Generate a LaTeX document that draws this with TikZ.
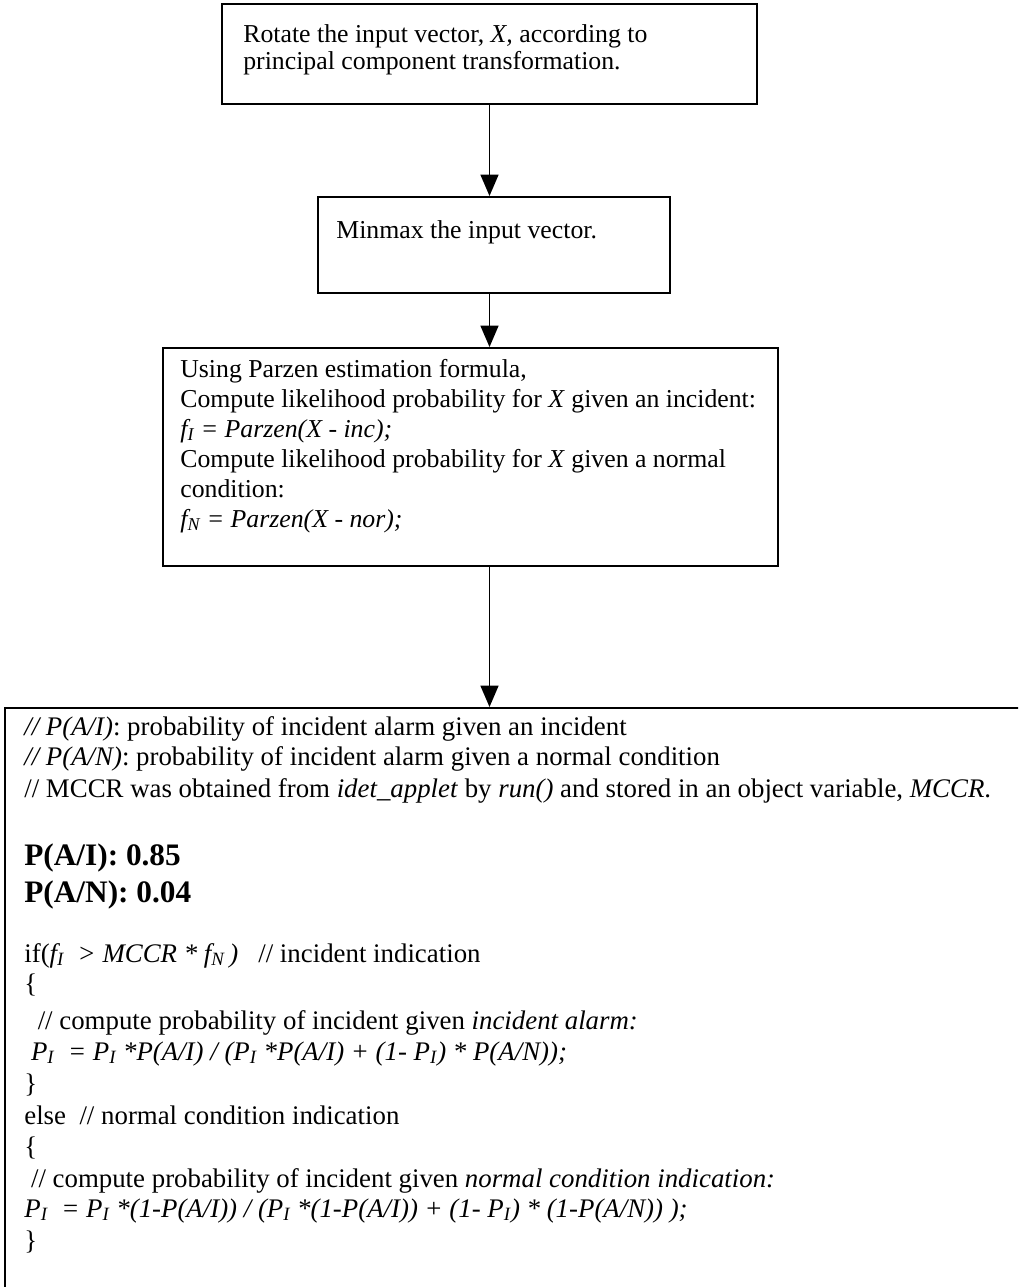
\documentclass[tikz,border=0pt]{standalone}
\usepackage{fontspec}
\setmainfont{Liberation Serif}
\usetikzlibrary{arrows.meta}
\tikzset{
  box/.style={draw, line width=1.1pt, inner sep=0pt},
  arr/.style={line width=1.1pt, -{Triangle[width=10pt,length=12pt]}},
  txt/.style={anchor=base west, inner sep=0pt, font=\fontsize{14.5pt}{16.7pt}\selectfont},
  code/.style={anchor=base west, inner sep=0pt, font=\fontsize{15.1pt}{17.4pt}\selectfont},
  big/.style={anchor=base west, inner sep=0pt, font=\fontsize{17.6pt}{20pt}\selectfont\bfseries},
}
\newcommand{\sub}[1]{\textsubscript{#1}}
\begin{document}
\begin{tikzpicture}[x=0.5625pt,y=-0.5625pt]
\useasboundingbox (0,0) rectangle (1018,1287);
\clip (0,0) rectangle (1018,1287);

% process boxes
\node[box, minimum width=300.9pt, minimum height=56.25pt] (b1) at (489.5,54) {};
\node[box, minimum width=198pt, minimum height=54pt] (b2) at (494,245) {};
\node[box, minimum width=345.9pt, minimum height=122.6pt] (b3) at (470.5,457) {};
\node[box, minimum width=576.6pt, minimum height=333pt] (b4) at (517.5,1004) {};

% connectors
\draw[arr] (b1.south) -- (b1.south |- b2.north);
\draw[arr] (b1.south |- b2.south) -- (b1.south |- b3.north);
\draw[arr] (b1.south |- b3.south) -- (b1.south |- b4.north);

% box 1
\node[txt] (t11) at (243,43) {Rotate the input vector, \textit{X,} according to};
\node[txt] (t12) at (243,70) {principal component transformation.};

% box 2
\node[txt] (t21) at (336,239) {Minmax the input vector.};

% box 3
\node[txt] (t31) at (180,377) {Using Parzen estimation formula,};
\node[txt] (t32) at (180,407) {Compute likelihood probability for \textit{X} given an incident:};
\node[txt] (t33) at (180,437) {\textit{f\sub{I} = Parzen(X - inc);}};
\node[txt] (t34) at (180,467) {Compute likelihood probability for \textit{X} given a normal};
\node[txt] (t35) at (180,497) {condition:};
\node[txt] (t36) at (180,527) {\textit{f\sub{N} = Parzen(X - nor);}};

% box 4
\node[code] (c1) at (24,735) {\textit{// P(A/I)}: probability of incident alarm given an incident};
\node[code] (c2) at (24,765) {\textit{// P(A/N)}: probability of incident alarm given a normal condition};
\node[code] (c3) at (24,797) {// MCCR was obtained from \textit{idet\_applet} by \textit{run()} and stored in an object variable, \textit{MCCR}.};
\node[big] (c4) at (24,865) {P(A/I): 0.85};
\node[big] (c5) at (24,902) {P(A/N): 0.04};
\node[code] (c6) at (24,962) {if(\textit{f\sub{I} \ > MCCR * f\sub{N}\,)} \ \ // incident indication};
\node[code] (c7) at (24,992) {\{};
\node[code] (c8) at (24,1029) {\ \ // compute probability of incident given \textit{incident alarm:}};
\node[code] (c9) at (24,1060) {\ \textit{P\sub{I} \ = P\sub{I} *P(A/I) / (P\sub{I} *P(A/I) + (1- P\sub{I}) * P(A/N));}};
\node[code] (c10) at (24,1092) {\}};
\node[code] (c11) at (24,1124) {else \ // normal condition indication};
\node[code] (c12) at (24,1155) {\{};
\node[code] (c13) at (24,1187) {\ // compute probability of incident given \textit{normal condition indication:}};
\node[code] (c14) at (24,1217) {\textit{P\sub{I} \ = P\sub{I} *(1-P(A/I)) / (P\sub{I} *(1-P(A/I)) + (1- P\sub{I}) * (1-P(A/N)) );}};
\node[code] (c15) at (24,1249) {\}};
\end{tikzpicture}
\end{document}
